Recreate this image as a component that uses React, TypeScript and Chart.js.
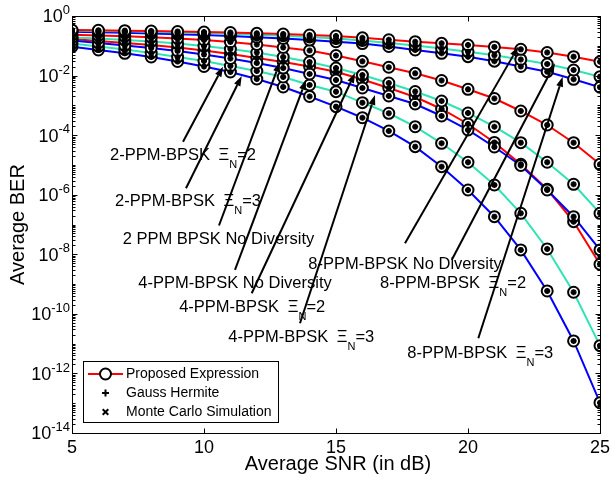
import React, { useEffect, useRef } from "react";
import { Chart, registerables } from "chart.js";
Chart.register(...registerables);

// ---------------- data ----------------
const snrDb = [5, 6, 7, 8, 9, 10, 11, 12, 13, 14, 15, 16, 17, 18, 19, 20, 21, 22, 23, 24, 25];

const redTop = [0.339, 0.331, 0.321, 0.313, 0.302, 0.29, 0.279, 0.262, 0.249, 0.23, 0.213, 0.185, 0.159, 0.137, 0.121, 0.106, 0.0918, 0.0762, 0.0596, 0.0431, 0.0292];
const cyanTop = [0.326, 0.316, 0.306, 0.295, 0.281, 0.269, 0.252, 0.236, 0.218, 0.197, 0.176, 0.151, 0.124, 0.102, 0.0811, 0.0634, 0.048, 0.0347, 0.0245, 0.0154, 0.00917];
const blueTop = [0.297, 0.286, 0.273, 0.259, 0.245, 0.23, 0.213, 0.194, 0.176, 0.156, 0.137, 0.119, 0.0946, 0.0723, 0.056, 0.0431, 0.0304, 0.0202, 0.0135, 0.0075, 0.00405];
const redMid = [0.2355, 0.2213, 0.2084, 0.1928, 0.1758, 0.1563, 0.134, 0.1104, 0.0877, 0.0695, 0.0472, 0.0301, 0.019, 0.0119, 0.00684, 0.00346, 0.0017, 6.47e-4, 2.19e-4, 5.58e-5, 1.05e-5];
const cyanMid = [0.19, 0.176, 0.156, 0.139, 0.119, 0.0984, 0.078, 0.0596, 0.0421, 0.0286, 0.0179, 0.0104, 0.00564, 0.00292, 0.0014, 5.55e-4, 1.92e-4, 5.58e-5, 1.23e-5, 2.24e-6, 2.38e-7];
const blueMid = [0.151, 0.124, 0.102, 0.0843, 0.0668, 0.051, 0.0374, 0.0264, 0.0179, 0.0113, 0.00711, 0.00383, 0.00207, 0.00111, 4.4e-4, 1.49e-4, 4.0e-5, 9.6e-6, 1.44e-6, 1.83e-7, 1.4e-8];
const redLow = [0.169, 0.145, 0.124, 0.106, 0.0877, 0.0695, 0.053, 0.0389, 0.0286, 0.0202, 0.0135, 0.00738, 0.00383, 0.00191, 7.55e-4, 2.37e-4, 5.68e-5, 1.05e-5, 1.52e-6, 1.245e-7, 4.62e-9];
const cyanLow = [0.119, 0.0946, 0.075, 0.0573, 0.0421, 0.0308, 0.021, 0.01426, 0.00895, 0.00483, 0.00288, 0.00123, 5.42e-4, 1.92e-4, 5.33e-5, 1.23e-5, 2.12e-6, 2.38e-7, 1.51e-8, 5.31e-10, 8.55e-12];
const blueLow = [0.0931, 0.0723, 0.056, 0.0421, 0.0297, 0.0202, 0.0132, 0.00767, 0.00414, 0.00199, 9.02e-4, 3.85e-4, 1.38e-4, 4.1e-5, 8.73e-6, 1.44e-6, 1.83e-7, 1.4e-8, 5.87e-10, 1.23e-11, 1.04e-13];

const xTicks = [5, 10, 15, 20, 25];
const yTickExponents = [0, -2, -4, -6, -8, -10, -12, -14];

const legendLabels = ["Proposed Expression", "Gauss Hermite", "Monte Carlo Simulation"];

// annotation texts and their anchor points (data units: SNR dB, BER)
const annTexts = [
  "2-PPM-BPSK Ξ_N=2",
  "2-PPM-BPSK Ξ_N=3",
  "2 PPM BPSK No Diversity",
  "4-PPM-BPSK No Diversity",
  "4-PPM-BPSK Ξ_N=2",
  "4-PPM-BPSK Ξ_N=3",
  "8-PPM-BPSK No Diversity",
  "8-PPM-BPSK Ξ_N=2",
  "8-PPM-BPSK Ξ_N=3",
];
const annTextSnr = [6.44, 6.63, 6.92, 7.51, 9.06, 10.92, 13.95, 16.67, 17.7];
const annTextBer = [2.33e-5, 6.65e-7, 3.45e-8, 1.21e-9, 1.84e-10, 1.81e-11, 5.0e-9, 1.15e-9, 5.38e-12];
const arrowTailSnr = [9.205, 9.318, 10.568, 11.174, 11.807, 13.636, 17.614, 19.383, 20.39];
const arrowTailBer = [6.03e-5, 1.64e-6, 9.27e-8, 2.98e-9, 4.91e-10, 4.84e-11, 2.34e-8, 6.44e-9, 1.52e-11];
const arrowHeadSnr = [10.72, 11.428, 12.879, 13.864, 15.72, 16.477, 21.905, 23.295, 23.587];
const arrowHeadBer = [0.01986, 0.00968, 0.02858, 0.00711, 0.01222, 0.00223, 0.0931, 0.0258, 0.00916];

// ---------------- styles ----------------
const RED = "#ff0000";
const CYAN = "#2fe3b4";
const BLUE = "#0000ff";
const FONT = '"Liberation Sans", Arial, Helvetica, sans-serif';

const curves = [
  { vals: redTop, color: RED },
  { vals: cyanTop, color: CYAN },
  { vals: blueTop, color: BLUE },
  { vals: redMid, color: RED },
  { vals: cyanMid, color: CYAN },
  { vals: blueMid, color: BLUE },
  { vals: redLow, color: RED },
  { vals: cyanLow, color: CYAN },
  { vals: blueLow, color: BLUE },
];

function drawArrow(ctx: CanvasRenderingContext2D, x1: number, y1: number, x2: number, y2: number) {
  const ang = Math.atan2(y2 - y1, x2 - x1);
  const L = 10;
  const W = 3.5;
  const bx = x2 - L * Math.cos(ang);
  const by = y2 - L * Math.sin(ang);
  ctx.beginPath();
  ctx.moveTo(x1, y1);
  ctx.lineTo(bx, by);
  ctx.stroke();
  ctx.beginPath();
  ctx.moveTo(x2, y2);
  ctx.lineTo(bx + W * Math.sin(ang), by - W * Math.cos(ang));
  ctx.lineTo(bx - W * Math.sin(ang), by + W * Math.cos(ang));
  ctx.closePath();
  ctx.fill();
}

const decorPlugin = {
  id: "decor",
  afterDraw(chart: any) {
    const ctx: CanvasRenderingContext2D = chart.ctx;
    const a = chart.chartArea;
    const xs = chart.scales.x;
    const ys = chart.scales.y;
    ctx.save();
    ctx.strokeStyle = "#000";
    ctx.fillStyle = "#000";
    ctx.lineWidth = 1;

    const L = Math.round(a.left) + 0.5;
    const R = Math.round(a.right) + 0.5;
    const T = Math.round(a.top) + 0.5;
    const B = Math.round(a.bottom) + 0.5;

    // x ticks
    ctx.beginPath();
    for (const t of xTicks) {
      const px = Math.round(xs.getPixelForValue(t)) + 0.5;
      ctx.moveTo(px, B);
      ctx.lineTo(px, B - 5);
      ctx.moveTo(px, T);
      ctx.lineTo(px, T + 5);
    }
    // y ticks: majors and minors
    for (let k = 0; k >= -14; k--) {
      const py = Math.round(ys.getPixelForValue(Math.pow(10, k))) + 0.5;
      const len = k % 2 === 0 ? 5 : 3;
      ctx.moveTo(L, py);
      ctx.lineTo(L + len, py);
      ctx.moveTo(R, py);
      ctx.lineTo(R - len, py);
      if (k > -14) {
        for (let m = 2; m <= 9; m++) {
          const pm = Math.round(ys.getPixelForValue(m * Math.pow(10, k - 1))) + 0.5;
          ctx.moveTo(L, pm);
          ctx.lineTo(L + 3, pm);
          ctx.moveTo(R, pm);
          ctx.lineTo(R - 3, pm);
        }
      }
    }
    ctx.stroke();

    // box
    ctx.strokeRect(L, T, R - L, B - T);

    // x tick labels
    ctx.font = `18px ${FONT}`;
    ctx.textAlign = "center";
    ctx.textBaseline = "middle";
    for (const t of xTicks) {
      ctx.fillText(String(t), xs.getPixelForValue(t), a.bottom + 15);
    }

    // y tick labels 10^k
    for (const e of yTickExponents) {
      const py = ys.getPixelForValue(Math.pow(10, e));
      const expStr = e === 0 ? "0" : "-" + String(-e);
      ctx.font = `13px ${FONT}`;
      const ew = ctx.measureText(expStr).width;
      const right = a.left - 2;
      ctx.textAlign = "left";
      ctx.textBaseline = "middle";
      ctx.fillText(expStr, right - ew, py - 5.5);
      ctx.font = `18px ${FONT}`;
      ctx.textAlign = "right";
      ctx.fillText("10", right - ew, py + 1.5);
    }

    // axis titles
    ctx.font = `20px ${FONT}`;
    ctx.textAlign = "center";
    ctx.textBaseline = "middle";
    ctx.fillText("Average SNR (in dB)", (a.left + a.right) / 2 + 2, a.bottom + 31);
    ctx.save();
    ctx.translate(18, (a.top + a.bottom) / 2);
    ctx.rotate(-Math.PI / 2);
    ctx.fillText("Average BER", 0, 0);
    ctx.restore();

    // annotations
    ctx.lineWidth = 2;
    for (let i = 0; i < annTexts.length; i++) {
      drawArrow(
        ctx,
        xs.getPixelForValue(arrowTailSnr[i]),
        ys.getPixelForValue(arrowTailBer[i]),
        xs.getPixelForValue(arrowHeadSnr[i]),
        ys.getPixelForValue(arrowHeadBer[i])
      );
    }
    ctx.textAlign = "left";
    ctx.textBaseline = "alphabetic";
    for (let i = 0; i < annTexts.length; i++) {
      let px = xs.getPixelForValue(annTextSnr[i]);
      const base = ys.getPixelForValue(annTextBer[i]) + 5.9;
      const m = annTexts[i].match(/^(.*) Ξ_N(.*)$/);
      ctx.font = `16.5px ${FONT}`;
      if (!m) {
        ctx.fillText(annTexts[i], px, base);
      } else {
        ctx.fillText(m[1], px, base);
        px += ctx.measureText(m[1] + " ").width + 4;
        ctx.fillText("Ξ", px, base);
        px += ctx.measureText("Ξ").width;
        ctx.font = `11px ${FONT}`;
        ctx.fillText("N", px, base + 8);
        px += ctx.measureText("N").width;
        ctx.font = `16.5px ${FONT}`;
        ctx.fillText(m[2], px, base);
      }
    }

    // legend
    const lx = a.left + 11.5;
    const ly = a.bottom - 71.5;
    ctx.lineWidth = 1;
    ctx.fillStyle = "#fff";
    ctx.fillRect(lx, ly, 195, 61);
    ctx.strokeStyle = "#000";
    ctx.strokeRect(lx, ly, 195, 61);
    const rowY = [ly + 12.5, ly + 31.5, ly + 50.5];
    const mx = lx + 22;
    // row 1: red line + circle
    ctx.strokeStyle = RED;
    ctx.lineWidth = 2;
    ctx.beginPath();
    ctx.moveTo(lx + 4.5, rowY[0]);
    ctx.lineTo(lx + 39.5, rowY[0]);
    ctx.stroke();
    ctx.strokeStyle = "#000";
    ctx.fillStyle = "#fff";
    ctx.beginPath();
    ctx.arc(mx, rowY[0], 5.5, 0, Math.PI * 2);
    ctx.fill();
    ctx.stroke();
    // row 2: plus
    ctx.beginPath();
    ctx.moveTo(mx - 3.5, rowY[1]);
    ctx.lineTo(mx + 3.5, rowY[1]);
    ctx.moveTo(mx, rowY[1] - 3.5);
    ctx.lineTo(mx, rowY[1] + 3.5);
    ctx.stroke();
    // row 3: x
    ctx.beginPath();
    ctx.moveTo(mx - 2.8, rowY[2] - 2.8);
    ctx.lineTo(mx + 2.8, rowY[2] + 2.8);
    ctx.moveTo(mx - 2.8, rowY[2] + 2.8);
    ctx.lineTo(mx + 2.8, rowY[2] - 2.8);
    ctx.stroke();
    ctx.fillStyle = "#000";
    ctx.font = `14px ${FONT}`;
    ctx.textAlign = "left";
    ctx.textBaseline = "middle";
    for (let i = 0; i < legendLabels.length; i++) {
      ctx.fillText(legendLabels[i], lx + 42.5, rowY[i] + 0.5);
    }

    ctx.restore();
  },
};

export default function App() {
  const canvasRef = useRef<HTMLCanvasElement | null>(null);

  useEffect(() => {
    document.body.style.margin = "0";
    const canvas = canvasRef.current;
    if (!canvas) return;

    const toPts = (vals: number[]) => snrDb.map((x, i) => ({ x, y: vals[i] }));

    const lineSets = curves.map((c) => ({
      data: toPts(c.vals),
      borderColor: c.color,
      borderWidth: 2,
      pointRadius: 0,
      fill: false,
      tension: 0,
      order: 4,
    }));
    const circleSets = curves.map((c) => ({
      data: toPts(c.vals),
      showLine: false,
      pointStyle: "circle",
      pointRadius: 5.5,
      pointBorderWidth: 2,
      pointBorderColor: "#000",
      pointBackgroundColor: "#fff",
      order: 3,
    }));
    const plusSets = curves.map((c) => ({
      data: toPts(c.vals),
      showLine: false,
      pointStyle: "cross",
      pointRadius: 3,
      pointBorderWidth: 2,
      pointBorderColor: "#000",
      pointBackgroundColor: "#000",
      order: 2,
    }));
    const xSets = curves.map((c) => ({
      data: toPts(c.vals),
      showLine: false,
      pointStyle: "crossRot",
      pointRadius: 3,
      pointBorderWidth: 2,
      pointBorderColor: "#000",
      pointBackgroundColor: "#000",
      order: 1,
    }));

    const chart = new Chart(canvas, {
      type: "line",
      data: { datasets: [...lineSets, ...circleSets, ...plusSets, ...xSets] as any },
      options: {
        responsive: false,
        animation: false,
        devicePixelRatio: 1,
        events: [],
        layout: { padding: { top: 16, right: 16, left: 0, bottom: 0 } },
        plugins: { legend: { display: false }, tooltip: { enabled: false } },
        scales: {
          x: {
            type: "linear",
            min: 5,
            max: 25,
            ticks: { display: false, stepSize: 5 },
            grid: { display: false },
            border: { display: false },
            afterFit: (s: any) => {
              s.height = 50;
            },
          },
          y: {
            type: "logarithmic",
            min: 1e-14,
            max: 1,
            ticks: { display: false },
            grid: { display: false },
            border: { display: false },
            afterFit: (s: any) => {
              s.width = 72;
            },
          },
        },
      } as any,
      plugins: [decorPlugin],
    });
    return () => chart.destroy();
  }, []);

  return (
    <div style={{ width: 616, height: 483, background: "#fff" }}>
      <canvas ref={canvasRef} width={616} height={483} />
    </div>
  );
}
